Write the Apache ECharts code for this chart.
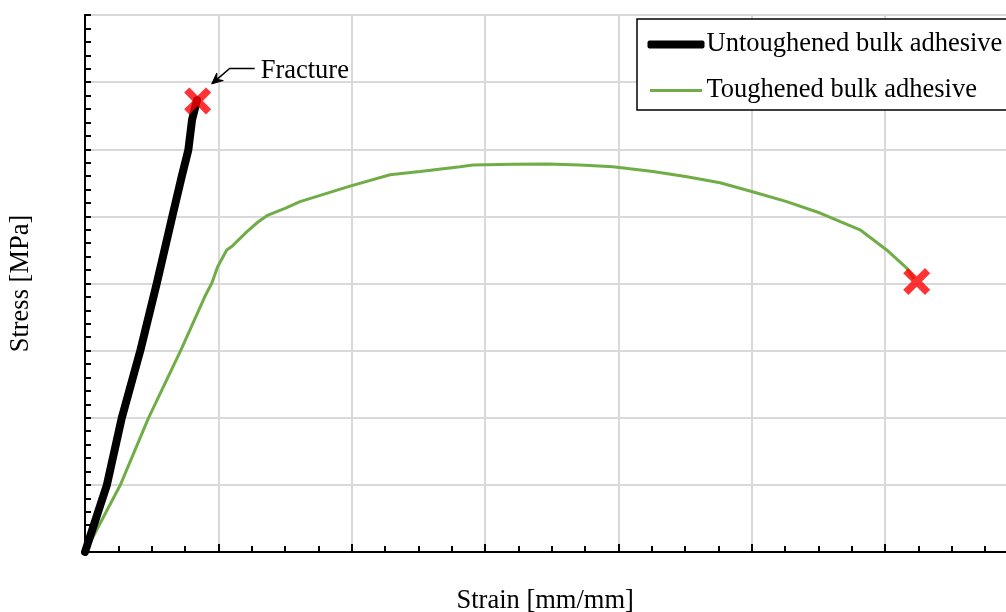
<!DOCTYPE html>
<html>
<head>
<meta charset="utf-8">
<script src="https://cdn.jsdelivr.net/npm/echarts@6/dist/echarts.min.js"></script>
<style>
html,body{margin:0;padding:0;background:#fff;}
#chart{width:1006px;height:612px;}
</style>
</head>
<body>
<div id="chart"></div>
<script>
// ---- data (strain [mm/mm], stress [MPa]) ----
const seriesNames = ['Untoughened bulk adhesive', 'Toughened bulk adhesive'];
const untoughened = [
  [0, 0], [0.0163, 9.9], [0.0275, 19.9], [0.0416, 30.1], [0.0538, 40.0],
  [0.0655, 50.0], [0.0725, 55.9], [0.0775, 59.9], [0.0803, 64.4], [0.084, 67.3]
];
const toughened = [
  [0, 0], [0.0263, 9.9], [0.0475, 19.9], [0.072, 30.1], [0.0893, 37.8],
  [0.0915, 38.7], [0.095, 40.0], [0.0995, 42.5], [0.1063, 45.0], [0.11, 45.5],
  [0.1213, 47.7], [0.13, 49.2], [0.1373, 50.2], [0.15, 51.2], [0.1613, 52.2],
  [0.1988, 54.5], [0.2288, 56.2], [0.2513, 56.7], [0.2813, 57.4], [0.291, 57.65],
  [0.321, 57.76], [0.3465, 57.8], [0.3713, 57.65], [0.396, 57.4], [0.426, 56.7],
  [0.4515, 55.9], [0.4763, 55.0], [0.5, 53.7], [0.5263, 52.2], [0.5513, 50.5],
  [0.5813, 48.0], [0.6013, 45.0], [0.6163, 42.3], [0.6218, 40.7]
];
const fractureMarks = [[0.0845, 67.2], [0.6238, 40.3]];
const annotationText = 'Fracture';
const xAxisTitle = 'Strain [mm/mm]';
const yAxisTitle = 'Stress [MPa]';
const xMax = 0.7, xInterval = 0.1;
const yMax = 80, yInterval = 10;

const FONT = "'Liberation Serif', 'Times New Roman', serif";
const FS = 26.5;
const chart = echarts.init(document.getElementById('chart'), null, {renderer: 'canvas'});

const option = {
  animation: false,
  backgroundColor: '#ffffff',
  grid: {
    left: 85, top: 15, width: 933.3, height: 537,
    outerBoundsMode: 'none', containLabel: false,
    show: true, borderColor: '#000', borderWidth: 2, backgroundColor: 'transparent'
  },
  legend: {
    left: 637, top: 19,
    orient: 'vertical',
    padding: [12, 16, 6, 8],
    itemGap: 19,
    itemWidth: 57, itemHeight: 8,
    borderColor: '#000', borderWidth: 1.5,
    backgroundColor: '#fff',
    textStyle: {fontFamily: FONT, fontSize: FS, color: '#000', padding: [0, 0, 0, -3]},
    data: [
      {name: seriesNames[0], icon: 'roundRect', itemStyle: {color: '#000', borderWidth: 0}},
      {name: seriesNames[1], icon: 'rect', itemStyle: {color: '#70ad47', borderColor: '#ffffff', borderWidth: 5}}
    ]
  },
  xAxis: {
    type: 'value', min: 0, max: xMax, interval: xInterval,
    name: xAxisTitle, nameLocation: 'middle', nameGap: 36,
    nameTextStyle: {fontFamily: FONT, fontSize: FS, color: '#000', padding: [0, 13, 0, 0]},
    axisLine: {show: true, onZero: false, lineStyle: {color: '#000', width: 2}},
    axisTick: {show: true, inside: true, length: 8, lineStyle: {color: '#000', width: 2}},
    minorTick: {show: true, splitNumber: 4, length: 6, lineStyle: {color: '#000', width: 2}},
    axisLabel: {show: false},
    splitLine: {show: true, lineStyle: {color: '#d9d9d9', width: 2}}
  },
  yAxis: {
    type: 'value', min: 0, max: yMax, interval: yInterval,
    name: yAxisTitle, nameLocation: 'middle', nameGap: 50, nameRotate: 90,
    nameTextStyle: {fontFamily: FONT, fontSize: FS, color: '#000'},
    axisLine: {show: true, onZero: false, lineStyle: {color: '#000', width: 2}},
    axisTick: {show: true, inside: true, length: 6, lineStyle: {color: '#000', width: 2}},
    minorTick: {show: true, splitNumber: 5, length: 6, lineStyle: {color: '#000', width: 2}},
    axisLabel: {show: false},
    splitLine: {show: true, lineStyle: {color: '#d9d9d9', width: 2}}
  },
  series: [
    {
      name: seriesNames[1], type: 'line', data: toughened, showSymbol: false, symbol: 'none',
      lineStyle: {color: '#70ad47', width: 3}, itemStyle: {color: '#70ad47'}, z: 3
    },
    {
      name: seriesNames[0], type: 'line', data: untoughened, showSymbol: false, symbol: 'none',
      lineStyle: {color: '#000', width: 8, cap: 'round', join: 'round'}, itemStyle: {color: '#000'}, z: 4
    },
    {
      name: 'fracture', type: 'scatter', data: fractureMarks,
      symbol: 'path://M0,4.6 L4.6,0 L12,7.4 L19.4,0 L24,4.6 L16.6,12 L24,19.4 L19.4,24 L12,16.6 L4.6,24 L0,19.4 L7.4,12 Z',
      symbolSize: 27, itemStyle: {color: '#ff0000'}, z: 6, silent: true
    }
  ]
};
chart.setOption(option);

const p = chart.convertToPixel({gridIndex: 0}, fractureMarks[0]);
const T = [p[0] + 14, p[1] - 17];
const E = [p[0] + 32, p[1] - 32.4];
const L = [p[0] + 57, p[1] - 32.4];
const dx = T[0] - E[0], dy = T[1] - E[1];
const len = Math.hypot(dx, dy);
const d = [dx / len, dy / len];
const n = [-d[1], d[0]];
const hl = 11, hw = 5, notch = 7;
const B = [T[0] - hl * d[0], T[1] - hl * d[1]];
const N = [T[0] - notch * d[0], T[1] - notch * d[1]];
chart.setOption({
  graphic: [
    {type: 'polyline', z: 10, shape: {points: [L, E, N]}, style: {stroke: '#000', lineWidth: 1.5, fill: null}},
    {type: 'polygon', z: 10, shape: {points: [T, [B[0] + hw * n[0], B[1] + hw * n[1]], N, [B[0] - hw * n[0], B[1] - hw * n[1]]]},
      style: {fill: '#000', stroke: '#000', lineWidth: 1}},
    {type: 'text', z: 10, x: p[0] + 63, y: p[1] - 29.5,
      style: {text: annotationText, font: FS + 'px ' + FONT, fill: '#000', verticalAlign: 'middle', align: 'left'}}
  ]
});
</script>
</body>
</html>
